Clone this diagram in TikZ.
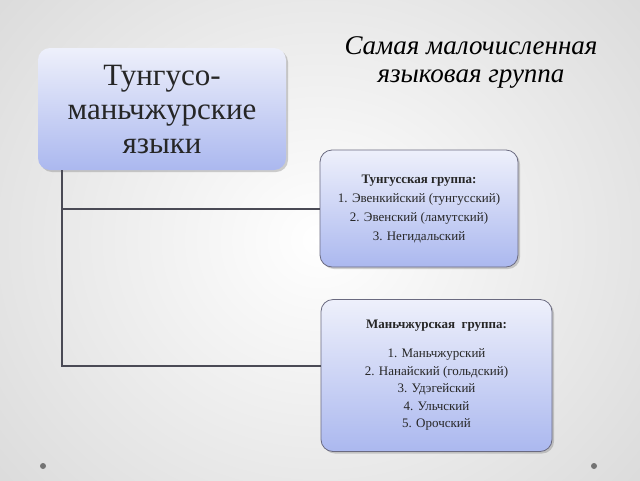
\documentclass[tikz,border=0pt]{standalone}
\usepackage{fontspec}
\setmainfont{Liberation Serif}
\usetikzlibrary{shadows}
\definecolor{boxtop}{HTML}{EEF0FB}
\definecolor{boxbot}{HTML}{ABB8EF}
\definecolor{edge}{HTML}{6A6A80}
\definecolor{ink}{HTML}{262626}
\definecolor{linec}{HTML}{4A4A55}
\tikzset{
  box/.style={rounded corners=12pt, top color=boxtop, bottom color=boxbot,
    align=center, inner sep=0pt, text=ink,
    drop shadow={shadow xshift=2pt, shadow yshift=-2pt, opacity=0.3, fill=black!60}},
  subbox/.style={box, draw=edge, line width=0.8pt},
  conn/.style={draw=linec, line width=2pt},
  dot/.style={circle, fill=black!55, inner sep=0pt, minimum size=6pt}
}
\begin{document}
\begin{tikzpicture}[x=1pt,y=-1pt]
\useasboundingbox (0,0) rectangle (640,480);
\shade[inner color=white, outer color=black!14] (-100,-140) rectangle (740,620);

\coordinate (top) at (62,170);
\coordinate (j3) at (62,366);

\node[box, minimum width=248pt, minimum height=122pt,
      font=\fontsize{31}{34}\selectfont] (main) at (162,109)
  {Тунгусо-\\маньчжурские\\языки};

\node[subbox, minimum width=198pt, minimum height=117pt,
      font=\fontsize{13}{19}\selectfont] (g1) at (419,208.5)
  {\textbf{Тунгусская группа:}\\1. Эвенкийский (тунгусский)\\2. Эвенский (ламутский)\\3. Негидальский};

\node[subbox, minimum width=231pt, minimum height=152pt,
      font=\fontsize{13}{17.6}\selectfont] (g2) at (436.5,375.5)
  {\textbf{Маньчжурская\ \ группа:}\\[11pt]1. Маньчжурский\\2. Нанайский (гольдский)\\3. Удэгейский\\4. Ульчский\\5. Орочский};

\node[font=\itshape\fontsize{27}{28}\selectfont, text=black, align=center] (title) at (471,62)
  {Самая малочисленная\\языковая группа};

\coordinate (j2) at (top |- g1.west);
\draw[conn] (top) -- (j3) -- (j3 -| g2.west);
\draw[conn] (j2) -- (g1.west);

\node[dot] (d1) at (43,466) {};
\node[dot] (d2) at (594,466) {};
\end{tikzpicture}
\end{document}
